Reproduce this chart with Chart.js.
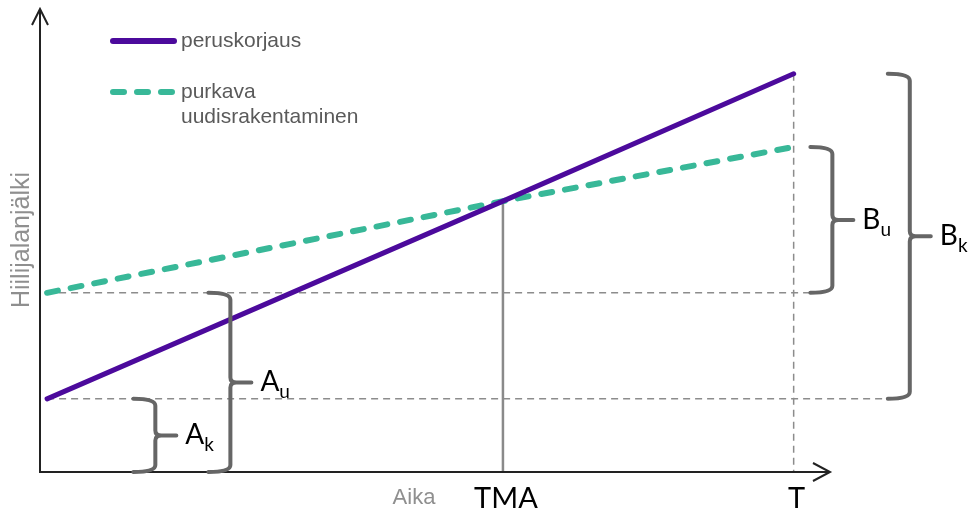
<!DOCTYPE html>
<html>
<head>
<meta charset="utf-8">
<script src="https://cdn.jsdelivr.net/npm/chart.js@4.4.0/dist/chart.umd.min.js"></script>
<style>
    body { margin: 0; background: #fff; }
    #wrap { width: 969px; height: 520px; position: relative; }
</style>
</head>
<body>
<div id="wrap"><canvas id="myChart"></canvas></div>
<script>
// Time points (x) and the two series
const timePoints = [0.9, 58.6, 95.4];
const peruskorjaus = [15.8, 58.5, 86.0];
const purkava = [38.7, 58.5, 70.2];
const seriesLabels = [['peruskorjaus'], ['purkava', 'uudisrakentaminen']];
const tickValues = [58.6, 95.4];
const tickLabels = ['TMA', 'T'];
const xTitle = 'Aika';
const yTitle = 'Hiilijalanjälki';
const braceNames = [['A', 'k'], ['A', 'u'], ['B', 'u'], ['B', 'k']];

const PURPLE = 'rgb(76, 10, 156)';
const TEAL = 'rgb(56, 184, 152)';
const GUIDE = '#8c8c8c';
const BRACE = '#666666';

// Draws a right-pointing curly brace between y1 and y2 at spine x
function drawBrace(ctx, x, y1, y2, arm, tip) {
    const mid = (y1 + y2) / 2;
    const r = 7;
    ctx.beginPath();
    ctx.moveTo(x - arm, y1);
    ctx.quadraticCurveTo(x, y1, x, y1 + r);
    ctx.lineTo(x, mid - 5);
    ctx.quadraticCurveTo(x, mid, x + 6, mid);
    ctx.lineTo(x + tip, mid);
    ctx.moveTo(x + 6, mid);
    ctx.quadraticCurveTo(x, mid, x, mid + 5);
    ctx.lineTo(x, y2 - r);
    ctx.quadraticCurveTo(x, y2, x - arm, y2);
    ctx.stroke();
}

const diagramPlugin = {
    id: 'diagram',
    beforeDatasetsDraw(chart) {
        const { ctx, chartArea: a, scales: { x, y } } = chart;
        ctx.save();
        // dashed guide lines
        ctx.strokeStyle = GUIDE;
        ctx.lineWidth = 1.5;
        ctx.setLineDash([7, 5]);
        const x0 = x.getPixelForValue(timePoints[0]);
        ctx.beginPath();
        ctx.moveTo(x0, y.getPixelForValue(purkava[0]));
        ctx.lineTo(x.getPixelForValue(100.3) - 22, y.getPixelForValue(purkava[0]));
        ctx.moveTo(x0, y.getPixelForValue(peruskorjaus[0]));
        ctx.lineTo(x.getPixelForValue(110.1) - 22, y.getPixelForValue(peruskorjaus[0]));
        const xT = x.getPixelForValue(timePoints[2]);
        ctx.moveTo(xT, y.getPixelForValue(peruskorjaus[2]));
        ctx.lineTo(xT, a.bottom);
        ctx.stroke();
        // solid line at TMA
        ctx.setLineDash([]);
        ctx.lineWidth = 2.5;
        ctx.strokeStyle = '#8a8a8a';
        const xM = x.getPixelForValue(timePoints[1]);
        ctx.beginPath();
        ctx.moveTo(xM, y.getPixelForValue(peruskorjaus[1]));
        ctx.lineTo(xM, a.bottom);
        ctx.stroke();
        // axes with arrows
        ctx.strokeStyle = '#222';
        ctx.lineWidth = 2;
        ctx.beginPath();
        ctx.moveTo(a.left, a.top);
        ctx.lineTo(a.left, a.bottom);
        ctx.lineTo(a.right, a.bottom);
        ctx.moveTo(a.left - 8, a.top + 16);
        ctx.lineTo(a.left, a.top);
        ctx.lineTo(a.left + 8, a.top + 16);
        ctx.moveTo(a.right - 17, a.bottom - 9);
        ctx.lineTo(a.right, a.bottom);
        ctx.lineTo(a.right - 17, a.bottom + 9);
        ctx.stroke();
        ctx.restore();
    },
    afterDraw(chart) {
        const { ctx, chartArea: a, scales: { x, y } } = chart;
        ctx.save();
        // braces
        const spans = [
            [0, peruskorjaus[0]],
            [0, purkava[0]],
            [purkava[2], purkava[0]],
            [peruskorjaus[2], peruskorjaus[0]]
        ];
        const spineX = [14.6, 24.1, 100.3, 110.1];
        ctx.strokeStyle = BRACE;
        ctx.lineWidth = 4;
        ctx.lineCap = 'round';
        spans.forEach((s, i) => {
            const px = x.getPixelForValue(spineX[i]);
            const yTop = y.getPixelForValue(Math.max(s[0], s[1]));
            const yBot = y.getPixelForValue(Math.min(s[0], s[1]));
            drawBrace(ctx, px, yTop, yBot, 22, 21);
            const mid = (yTop + yBot) / 2;
            ctx.fillStyle = '#000';
            ctx.textBaseline = 'alphabetic';
            ctx.textAlign = 'left';
            ctx.font = '28px Lato';
            const lx = px + 30;
            ctx.fillText(braceNames[i][0], lx, mid + 9);
            const w = ctx.measureText(braceNames[i][0]).width;
            ctx.font = '19px Lato';
            ctx.fillText(braceNames[i][1], lx + w, mid + 16);
        });
        // tick labels
        ctx.fillStyle = '#000';
        ctx.font = '29px Lato';
        ctx.textAlign = 'center';
        tickValues.forEach((v, i) => {
            ctx.fillText(tickLabels[i], x.getPixelForValue(v) + 3, a.bottom + 36);
        });
        // axis titles
        ctx.fillStyle = '#8f8f8f';
        ctx.font = '22px "Liberation Sans"';
        ctx.fillText(xTitle, 414, a.bottom + 32);
        ctx.save();
        ctx.translate(22, 240);
        ctx.rotate(-Math.PI / 2);
        ctx.textBaseline = 'middle';
        ctx.font = '25px "Liberation Sans"';
        ctx.fillText(yTitle, 0, 0);
        ctx.restore();
        // legend
        const items = [
            { color: PURPLE, dash: [], width: 6, y: 41 },
            { color: TEAL, dash: [11, 13], width: 6, y: 92 }
        ];
        items.forEach((it, i) => {
            ctx.strokeStyle = it.color;
            ctx.lineWidth = it.width;
            ctx.setLineDash(it.dash);
            ctx.lineCap = 'round';
            ctx.beginPath();
            ctx.moveTo(113, it.y);
            ctx.lineTo(174, it.y);
            ctx.stroke();
            ctx.fillStyle = '#5a5a5a';
            ctx.font = '21px "Liberation Sans"';
            ctx.textAlign = 'left';
            ctx.textBaseline = 'middle';
            seriesLabels[i].forEach((t, j) => {
                ctx.fillText(t, 181, it.y + j * 25);
            });
        });
        ctx.restore();
    }
};

const ctx = document.getElementById('myChart').getContext('2d');
new Chart(ctx, {
    type: 'line',
    data: {
        datasets: [
            {
                label: seriesLabels[0].join(' '),
                data: timePoints.map((t, i) => ({ x: t, y: peruskorjaus[i] })),
                borderColor: PURPLE,
                borderWidth: 5,
                borderCapStyle: 'round',
                pointRadius: 0,
                tension: 0,
                clip: false
            },
            {
                label: seriesLabels[1].join(' '),
                data: timePoints.map((t, i) => ({ x: t, y: purkava[i] })),
                borderColor: TEAL,
                borderWidth: 6,
                borderDash: [11, 13],
                borderCapStyle: 'round',
                pointRadius: 0,
                tension: 0,
                clip: false
            }
        ]
    },
    options: {
        responsive: true,
        maintainAspectRatio: false,
        animation: false,
        layout: { padding: { left: 40, right: 139, top: 9, bottom: 48 } },
        plugins: {
            legend: { display: false },
            tooltip: { enabled: false }
        },
        scales: {
            x: { type: 'linear', min: 0, max: 100, display: false },
            y: { min: 0, max: 100, display: false }
        }
    },
    plugins: [diagramPlugin]
});
</script>
</body>
</html>
